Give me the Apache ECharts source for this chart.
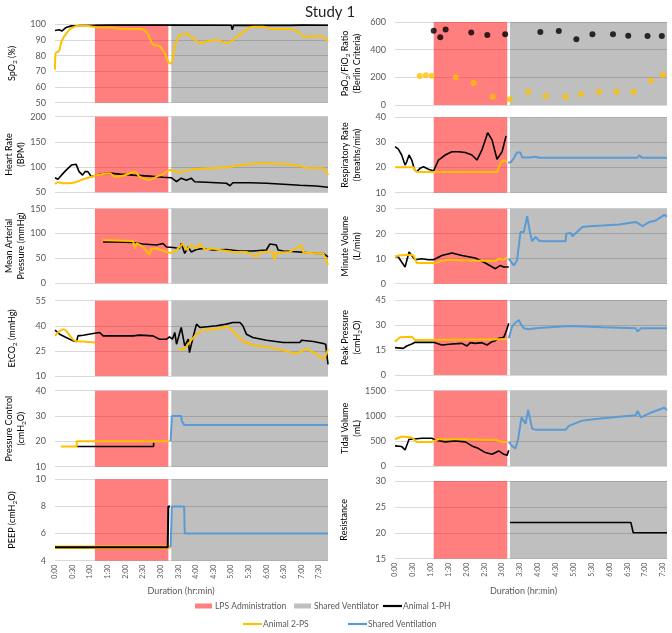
<!DOCTYPE html>
<html><head><meta charset="utf-8">
<script src="https://cdn.jsdelivr.net/npm/echarts@6/dist/echarts.min.js"></script>
<style>html,body{margin:0;padding:0;background:#fff}#c{width:672px;height:633px}</style>
</head><body><div id="c"></div>
<script>
// ---------- shaded periods (minutes) ----------
const lpsLeft = [68, 193];
const sharedLeft = [198, 465];
const lpsRight = [65, 188.5];
const sharedRight = [193, 456.7];

// ---------- left column ----------
const spo2PH = [[0,96],[7,96.5],[12,95.8],[19,98],[28,99],[38,99],[40,97.8],[42,99.2],[100,99.5],[200,99.5],[300,99.4],[302,96.5],[304,99.3],[400,99.3],[420,99.5],[465,99.4]];
const spo2PS = [[0,71],[1,81.5],[7,83],[11,89],[19,94],[28,97.5],[42,99],[53,99],[76,98],[93,98],[116,97],[144,97],[156,95],[167,87],[178,86],[187,81.5],[193,76],[198,75],[204,86],[212,93],[224,94],[235,91],[247,88],[258,89],[275,90],[292,88],[303,90],[320,95],[337,98.5],[354,98.5],[371,97],[394,97],[411,96],[425,92],[445,92.5],[457,92],[465,89]];

const hrPH = [[0,79],[5,76],[11,84],[19,94],[28,104],[36,105.5],[41,91],[47,84],[51,91],[56,91],[62,81],[76,86],[93,88],[110,86],[133,84],[161,82],[184,80],[198,79],[207,71],[215,78],[224,74],[232,78],[238,71],[258,70],[292,68],[298,63],[303,69],[332,69],[360,68],[389,66],[417,64],[445,62.5],[465,60]];
const hrPS = [[0,66.5],[5,70],[14,68],[31,69],[48,76],[65,82],[79,86],[93,88],[102,81],[119,84],[136,91],[144,81],[161,74.5],[173,81],[184,86],[195,94],[212,89.5],[229,94],[258,97.5],[292,99.5],[315,104],[349,107.5],[389,106],[417,102],[434,97.5],[457,97.5],[465,84]];

const mapPH = [[82,83],[105,83],[133,82],[150,79],[173,77],[184,80],[190,73],[201,72],[212,70],[215,80],[221,60],[227,73],[232,63],[241,68],[252,70],[269,67],[292,68],[315,65],[337,65],[360,67],[366,79],[377,77],[380,67],[389,65],[417,63],[445,60],[457,60],[465,53]];
const mapPS = [[82,87],[133,85],[136,70],[139,81],[150,73],[161,57],[164,70],[173,70],[190,63],[198,61],[207,67],[218,80],[224,67],[232,77],[241,70],[247,79],[255,68],[269,70],[281,67],[303,63],[326,63],[343,53],[349,63],[371,63],[374,47],[377,61],[400,63],[420,77],[423,62],[445,60],[457,60],[465,37]];

const etco2PH = [[0,37.4],[8,35],[19,33],[31,31],[37,30.6],[39,34],[48,34.4],[65,35.4],[76,36],[82,34],[105,34],[133,34],[144,34.4],[167,34],[178,32],[190,32],[195,33.4],[200,32],[204,36],[207,29],[215,39],[221,28],[227,32],[229,24],[235,33],[241,41],[247,39],[275,40],[292,41],[303,42],[315,42],[320,40],[326,35],[337,33],[360,31.4],[389,30],[417,30],[420,31.4],[440,30.6],[457,29.4],[461,29],[463,23],[465,17]];
const etco2PS = [[0,34],[5,36],[14,38],[19,37],[34,31],[48,30.6],[68,30],[140,null],[210,26],[218,26],[229,30],[241,35],[252,37.4],[275,38],[292,39.4],[303,37],[320,31],[337,28.6],[360,27.4],[389,25.4],[411,23.4],[428,26],[445,23],[457,20.6],[465,26]];

const pcPH = [[37,18],[168,18],[168,19.5]];
const pcPS = [[10,18],[37,18],[37,20],[195,20]];
const pcShared = [[197,20],[199,30],[215,30],[216,28],[219,28],[220,26.5],[465,26.5]];

const peepPH = [[0,5],[192,5],[193,8],[196,8]];
const peepPS = [[0,5],[197,5]];
const peepShared = [[197,5],[199,8],[220,8],[221,6],[465,6]];

// ---------- right column ----------
const pfPH = [[65,537],[76,489],[85,545],[128,525],[155,506],[185,511],[244,528],[275,535],[304.5,475],[331.5,511],[366,511],[391.6,501],[424,499],[448,499]];
const pfPS = [[41.6,210],[51.7,214.5],[61.8,212],[102,200],[132,159],[164,60],[192.7,41],[223.6,96],[253,65],[286.5,60],[312.4,79.5],[342.7,96],[372,96],[400.6,96],[430,178],[450,217]];

const rrPH = [[0,28.3],[1,28.6],[5.6,27.3],[11.2,25],[16.9,21],[19.7,22.3],[23.6,25],[28.1,23],[32.6,19.3],[36.5,18.4],[42.1,19.7],[47.8,20.3],[56.2,19.3],[64.6,18.6],[73,23],[84.3,25],[95.5,26.3],[106.7,26.3],[118,26],[129.2,25],[137.6,23],[146,27],[155.6,33.9],[162.9,31],[171.3,23.3],[179.8,26.3],[186.5,32.6]];
const rrPS = [[0,20.1],[30.9,20.1],[36.5,18.2],[171.3,18.2],[177,21.7],[182.6,23],[188.2,22.3]];
const rrShared = [[189.9,22],[193.8,22],[199.4,23.7],[205,26],[210.7,26],[213.5,24],[224.7,24],[236,24.3],[241.6,23.9],[286.5,23.9],[289.3,24.6],[292.1,23.9],[407.3,23.9],[410.1,24.9],[414.6,23.9],[456.7,23.9]];

const mvPH = [[0,10.9],[5.6,10.7],[11.2,8.7],[16.9,6.7],[23.6,12.7],[28.1,11.3],[33.7,9.6],[44.9,10],[56.2,9.6],[64.6,9.6],[78.7,11.3],[95.5,12.3],[112.4,11.3],[134.8,10.3],[151.7,8.3],[168.5,6],[177,7.3],[182.6,6.7],[191,6.7]];
const mvPS = [[0,10.7],[5.6,11.3],[25.3,11.6],[30.9,11.3],[36.5,8.3],[70.2,8.3],[75.8,9],[89.9,9.6],[123.6,9.3],[168.5,9.1],[174.2,10],[182.6,9.6],[188.2,10.4]];
const mvShared = [[191,10],[199.4,7.3],[205,9.3],[210.7,20.7],[216.3,20.7],[221.9,27],[226.4,20.7],[230.3,17],[236,18.7],[241.6,17.3],[247.2,17],[286.5,17],[287.6,20],[295,20.3],[297.8,19],[314.6,22.7],[325.8,23],[348.3,23.3],[376.4,23.7],[404.5,24.7],[415.7,23],[427,24.7],[438.2,25.3],[452.2,27.5],[456.7,26.8]];

const ppPH = [[0,16.4],[14,16],[19.7,17.4],[28.1,18.6],[33.7,19.6],[64.6,19.6],[67.4,18.6],[78.7,18],[95.5,18.6],[112.4,19],[120.8,17.4],[126.4,19.4],[134.8,19],[146,19.4],[154.5,18],[162.9,20],[168.5,20.6],[174.2,22],[182.6,22.6],[186.5,26],[191,31]];
const ppPS = [[0,20],[8.4,22.6],[28.1,23],[33.7,21],[182.6,21.4],[188.2,21.4]];
const ppShared = [[191,22],[196.6,29],[202.2,31.4],[207.9,33],[210.7,31],[216.3,28],[224.7,27.4],[236,28],[292.1,29.4],[348.3,28.6],[404.5,28],[407.3,26],[412.9,28],[456.7,28]];

const tvPH = [[0,400],[11.2,387],[16.9,320],[23.6,533],[28.1,533],[44.9,553],[61.8,553],[67.4,520],[84.3,480],[101,500],[118,480],[129.2,400],[140.4,347],[151.7,267],[162.9,233],[174.2,300],[182.6,233],[188.2,213],[191,313]];
const tvPS = [[0,533],[11.2,587],[28.1,567],[36.5,480],[61.8,480],[73,533],[123.6,533],[168.5,520],[179.8,480],[188.2,480]];
const tvShared = [[191,480],[196.6,400],[202.2,347],[206.7,533],[210.7,840],[212.4,968],[216.3,900],[219.1,840],[223.6,1115],[230.3,744],[236,720],[286.5,720],[292.1,800],[303.4,853],[314.6,904],[337.1,936],[376.4,981],[404.5,1013],[407.3,1096],[412.9,968],[432.6,1077],[452.2,1160],[456.7,1115]];

const resPH = [[193,22],[396,22],[400,20],[456.7,20]];

// ---------- axis names ----------
const yNamesLeft = [
  ['{t|SpO}{s|2}{t| (%)}'],
  ['{t|Heart Rate}','{t|(BPM)}'],
  ['{t|Mean Arterial}','{t|Pressure (mmHg)}'],
  ['{t|EtCO}{s|2}{t| (mmHg)}'],
  ['{t|Pressure Control}','{t|(cmH}{s|2}{t|O)}'],
  ['{t|PEEP (cmH}{s|2}{t|O)}']
];
const yNamesRight = [
  ['{t|PaO}{s|2}{t|/FiO}{s|2}{t| Ratio}','{t|(Berlin Criteria)}'],
  ['{t|Respiratory Rate}','{t|(breaths/min)}'],
  ['{t|Minute Volume}','{t|(L/min)}'],
  ['{t|Peak Pressure}','{t|(cmH}{s|2}{t|O)}'],
  ['{t|Tidal Volume}','{t|(mL)}'],
  ['{t|Resistance}']
];
const yScalesLeft = [[50,100,10],[50,200,50],[0,150,50],[10,55,15],[10,40,10],[4,10,2]];
const yScalesRight = [[0,600,200],[10,40,10],[0,30,10],[0,45,15],[0,1500,500],[15,30,5]];
const xTitle = 'Duration (hr:min)';
const legendItems = ['LPS Administration','Shared Ventilator','Animal 1-PH','Animal 2-PS','Shared Ventilation'];

// ---------- layout ----------
const C_PH = '#000000', C_PS = '#FFC000', C_SH = '#5B9BD5';
const C_LPS = 'rgba(255,0,0,0.5)', C_SHV = 'rgba(0,0,0,0.25)';
const TXT = '#595959';
const FONT = 'Lato';
const rowsLeft = [[24.3,102.7],[116.7,192.3],[208.7,283.3],[300.7,376],[390.7,466.7],[479.3,560.7]];
const rowsRight = [[22,105],[117.3,192.7],[208.7,283.7],[300,375],[390.7,466],[481,558.7]];
const colLeft = {left:55, width:273, max:465, lps:lpsLeft, sh:sharedLeft, nameX1:12.5, nameX2:15};
const colRight = {left:395, width:272, max:456.7, lps:lpsRight, sh:sharedRight, nameX1:344, nameX2:351};

const leftSeries = [
  [{d:spo2PH,c:C_PH},{d:spo2PS,c:C_PS,smooth:true}],
  [{d:hrPH,c:C_PH},{d:hrPS,c:C_PS,smooth:true}],
  [{d:mapPH,c:C_PH},{d:mapPS,c:C_PS}],
  [{d:etco2PH,c:C_PH},{d:etco2PS,c:C_PS,smooth:true}],
  [{d:pcPH,c:C_PH},{d:pcPS,c:C_PS},{d:pcShared,c:C_SH}],
  [{d:peepPS,c:C_PS,w:3.5},{d:peepPH,c:C_PH,w:2},{d:peepShared,c:C_SH}]
];
const rightSeries = [
  [{d:pfPH,c:C_PH,scatter:true},{d:pfPS,c:C_PS,scatter:true}],
  [{d:rrPH,c:C_PH},{d:rrPS,c:C_PS},{d:rrShared,c:C_SH}],
  [{d:mvPH,c:C_PH},{d:mvPS,c:C_PS},{d:mvShared,c:C_SH}],
  [{d:ppPH,c:C_PH},{d:ppPS,c:C_PS},{d:ppShared,c:C_SH}],
  [{d:tvPH,c:C_PH},{d:tvPS,c:C_PS},{d:tvShared,c:C_SH}],
  [{d:resPH,c:C_PH}]
];

function fmtTime(v){
  if (Math.abs(v % 30) > 1e-6) return '';
  const h = Math.floor(v/60), m = Math.round(v%60);
  return h + ':' + (m<10?'0':'') + m;
}

const grid=[], xAxis=[], yAxis=[], series=[], graphic=[];
const richName = {
  t:{fontFamily:FONT,fontSize:9,color:TXT,lineHeight:12},
  s:{fontFamily:FONT,fontSize:6.5,color:TXT,padding:[5,0,0,0]}
};

function addColumn(col, rows, scales, sers, names){
  rows.forEach((r,i)=>{
    const gi = grid.length;
    grid.push({left:col.left, top:r[0], width:col.width, height:r[1]-r[0], containLabel:false});
    const bottom = (i===rows.length-1);
    xAxis.push({type:'value', gridIndex:gi, min:0, max:col.max, interval:30,
      axisLine:{show:false}, axisTick:{show:false}, splitLine:{show:false},
      axisLabel:{show:bottom, rotate:90, fontSize:7, fontFamily:FONT, color:TXT, margin:4, formatter:fmtTime, showMaxLabel:false}});
    const sc = scales[i];
    yAxis.push({type:'value', gridIndex:gi, min:sc[0], max:sc[1], interval:sc[2],
      axisLine:{show:false}, axisTick:{show:false},
      splitLine:{show:true, lineStyle:{color:'#D9D9D9', width:1}},
      axisLabel:{fontSize:9, fontFamily:FONT, color:TXT, margin:9, formatter:(v)=>String(v)}});
    sers[i].forEach((s,k)=>{
      const o = {type: s.scatter?'scatter':'line', xAxisIndex:gi, yAxisIndex:gi, data:s.d,
        silent:true, animation:false};
      if (s.scatter){ o.symbolSize = 6; o.itemStyle = {color:s.c}; }
      else { o.symbol='none'; o.smooth = s.smooth?0.3:false; o.connectNulls=false;
        o.lineStyle = {color:s.c, width: s.w || (s.c===C_PH?1.6:2)}; }
      if (k===0){
        o.markArea = {silent:true, data:[
          [{xAxis:col.lps[0], itemStyle:{color:C_LPS}},{xAxis:col.lps[1]}],
          [{xAxis:col.sh[0], itemStyle:{color:C_SHV}},{xAxis:col.sh[1]}]
        ]};
      }
      series.push(o);
    });
    const nm = names[i];
    graphic.push({type:'text', x: nm.length>1?col.nameX2:col.nameX1, y:(r[0]+r[1])/2, rotation:Math.PI/2,
      style:{text:nm.join('\n'), rich:richName, align:'center', verticalAlign:'middle'}});
  });
}
addColumn(colLeft, rowsLeft, yScalesLeft, leftSeries, yNamesLeft);
addColumn(colRight, rowsRight, yScalesRight, rightSeries, yNamesRight);

// title + axis titles
graphic.push({type:'text', x:330, y:12, style:{text:'Study 1', fontFamily:FONT, fontSize:15, fill:'#262626', align:'center', verticalAlign:'middle'}});
graphic.push({type:'text', x:181, y:591, style:{text:xTitle, fontFamily:FONT, fontSize:9, fill:TXT, align:'center', verticalAlign:'middle'}});
graphic.push({type:'text', x:523.5, y:591, style:{text:xTitle, fontFamily:FONT, fontSize:9, fill:TXT, align:'center', verticalAlign:'middle'}});

// legend
const lg = [
  {kind:'rect', x:195, y:606, c:C_LPS, label:legendItems[0]},
  {kind:'rect', x:294, y:606, c:C_SHV, label:legendItems[1]},
  {kind:'line', x:383, y:606, c:C_PH, label:legendItems[2]},
  {kind:'line', x:243, y:624, c:C_PS, label:legendItems[3]},
  {kind:'line', x:348, y:624, c:C_SH, label:legendItems[4]}
];
lg.forEach(it=>{
  if (it.kind==='rect') graphic.push({type:'rect', shape:{x:it.x, y:it.y-2.5, width:17, height:5}, style:{fill:it.c}});
  else graphic.push({type:'line', shape:{x1:it.x, y1:it.y, x2:it.x+19, y2:it.y}, style:{stroke:it.c, lineWidth:2.2}});
  graphic.push({type:'text', x:it.x+20, y:it.y, style:{text:it.label, fontFamily:FONT, fontSize:8.5, fill:TXT, align:'left', verticalAlign:'middle'}});
});

const chart = echarts.init(document.getElementById('c'), null, {renderer:'canvas'});
chart.setOption({animation:false, backgroundColor:'#fff', grid, xAxis, yAxis, series, graphic});
</script></body></html>
